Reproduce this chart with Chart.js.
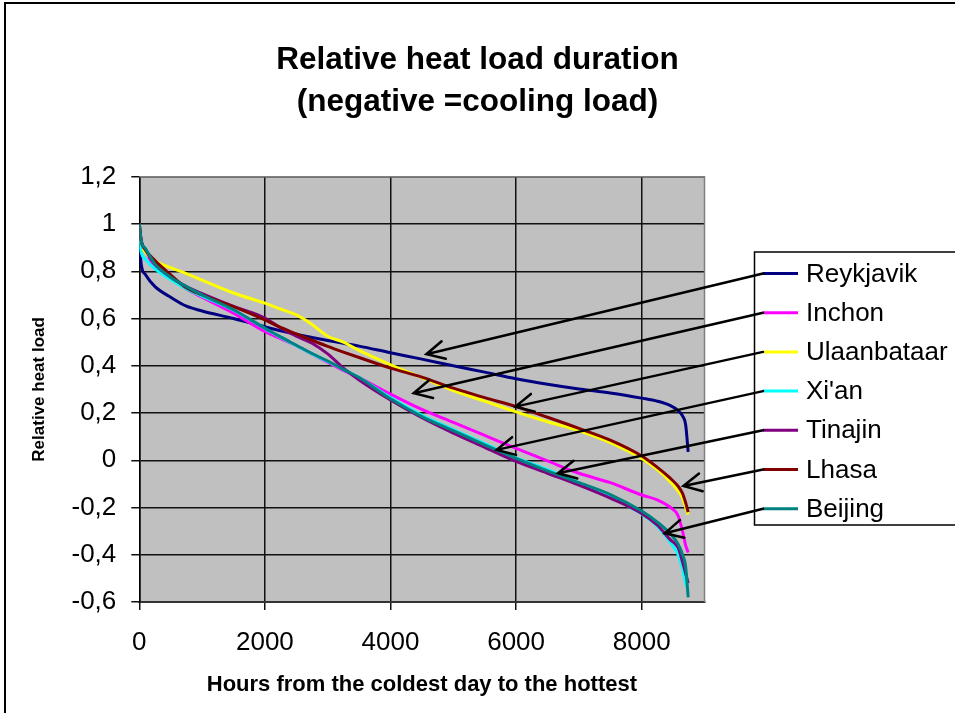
<!DOCTYPE html>
<html>
<head>
<meta charset="utf-8">
<script src="https://cdn.jsdelivr.net/npm/chart.js@4/dist/chart.umd.min.js"></script>
<style>
  html, body { margin: 0; padding: 0; background: #ffffff; }
  canvas { display: block; }
</style>
</head>
<body>
<canvas id="c" width="955" height="713"></canvas>
<script>
// ---------------- DATA ----------------
const cities = ['Reykjavik', 'Inchon', 'Ulaanbataar', "Xi'an", 'Tinajin', 'Lhasa', 'Beijing'];
const cityColors = ['#000080', '#ff00ff', '#ffff00', '#00ffff', '#800080', '#800000', '#008080'];

const hours = [0, 30, 100, 250, 500, 750, 1000, 1500, 2000, 2250, 2500, 2750, 3000, 3250, 3500,
               4000, 4500, 5000, 5500, 6000, 6500, 7000, 7500, 8000, 8250, 8450, 8580, 8650, 8700, 8740];

const reykjavik   = [0.93, 0.83, 0.785, 0.735, 0.69, 0.652, 0.632, 0.60, 0.565, 0.548, 0.533, 0.52, 0.507, 0.495, 0.483,
                     0.455, 0.428, 0.40, 0.373, 0.345, 0.322, 0.302, 0.285, 0.263, 0.25, 0.232, 0.21, 0.188, 0.15, 0.035];
const inchon      = [1.0, 0.93, 0.885, 0.82, 0.77, 0.725, 0.69, 0.623, 0.545, 0.515, 0.485, 0.45, 0.415, 0.38, 0.35,
                     0.28, 0.215, 0.16, 0.105, 0.05, -0.003, -0.055, -0.095, -0.147, -0.168, -0.198, -0.235, -0.30, -0.36, -0.39];
const ulaanbataar = [1.0, 0.92, 0.88, 0.845, 0.815, 0.79, 0.762, 0.708, 0.665, 0.64, 0.615, 0.575, 0.525, 0.50, 0.465,
                     0.404, 0.35, 0.295, 0.25, 0.205, 0.163, 0.125, 0.075, 0.008, -0.04, -0.09, -0.13, -0.16, -0.20, -0.23];
const xian        = [0.93, 0.88, 0.85, 0.81, 0.765, 0.725, 0.695, 0.635, 0.558, 0.52, 0.485, 0.45, 0.418, 0.385, 0.35,
                     0.265, 0.19, 0.13, 0.07, 0.01, -0.04, -0.095, -0.155, -0.228, -0.28, -0.345, -0.40, -0.46, -0.52, -0.55];
const tinajin     = [1.0, 0.93, 0.89, 0.83, 0.775, 0.735, 0.705, 0.651, 0.602, 0.56, 0.525, 0.495, 0.45, 0.39, 0.34,
                     0.255, 0.18, 0.115, 0.055, -0.005, -0.055, -0.105, -0.16, -0.225, -0.275, -0.335, -0.37, -0.43, -0.48, -0.52];
const lhasa       = [1.0, 0.93, 0.89, 0.845, 0.785, 0.73, 0.70, 0.65, 0.594, 0.562, 0.535, 0.508, 0.482, 0.458, 0.435,
                     0.39, 0.352, 0.305, 0.265, 0.227, 0.182, 0.135, 0.085, 0.018, -0.03, -0.075, -0.11, -0.14, -0.18, -0.22];
const beijing     = [1.0, 0.93, 0.895, 0.83, 0.775, 0.735, 0.70, 0.637, 0.559, 0.522, 0.487, 0.452, 0.42, 0.385, 0.35,
                     0.26, 0.185, 0.125, 0.065, 0.008, -0.045, -0.095, -0.145, -0.215, -0.262, -0.31, -0.355, -0.40, -0.45, -0.58];

const seriesValues = [reykjavik, inchon, ulaanbataar, xian, tinajin, lhasa, beijing];

const xTicks = [0, 2000, 4000, 6000, 8000];
const xTickLabels = ['0', '2000', '4000', '6000', '8000'];
const yTicks = [-0.6, -0.4, -0.2, 0, 0.2, 0.4, 0.6, 0.8, 1.0, 1.2];
const yTickLabels = ['-0,6', '-0,4', '-0,2', '0', '0,2', '0,4', '0,6', '0,8', '1', '1,2'];

// arrow tips (data coordinates) pointing from each legend entry
const arrowTipHours = [4571, 4369, 5990, 5690, 6667, 8664, 8368];
const arrowTipLoad  = [0.449, 0.284, 0.227, 0.044, -0.055, -0.109, -0.309];

// ---------------- CHART ----------------
const FONT = "'Liberation Sans', Arial, Helvetica, sans-serif";

const datasets = cities.map((name, i) => ({
  label: name,
  data: hours.map((h, k) => ({ x: h, y: seriesValues[i][k] })),
  borderColor: cityColors[i],
  backgroundColor: cityColors[i],
  borderWidth: 3,
  pointRadius: 0,
  fill: false,
  cubicInterpolationMode: 'monotone',
  order: cities.length - i
}));

const decorPlugin = {
  id: 'decor',
  beforeDraw(chart) {
    const { ctx, chartArea: a } = chart;
    ctx.save();
    ctx.fillStyle = '#c0c0c0';
    ctx.fillRect(a.left, a.top, a.right - a.left, a.bottom - a.top);
    ctx.restore();
  },
  beforeDatasetsDraw(chart) {
    const { ctx, chartArea: a } = chart;
    ctx.save();
    ctx.strokeStyle = '#808080';
    ctx.lineWidth = 1.5;
    ctx.beginPath();
    ctx.moveTo(a.left, a.top);
    ctx.lineTo(a.right, a.top);
    ctx.lineTo(a.right, a.bottom);
    ctx.stroke();
    ctx.restore();
  },
  afterDraw(chart) {
    const { ctx } = chart;
    const xs = chart.scales.x, ys = chart.scales.y;
    ctx.save();
    // outer frame
    ctx.strokeStyle = '#000';
    ctx.lineWidth = 2;
    ctx.strokeRect(5, 3, 1000, 1000);

    // legend box
    const boxL = 754.5, boxT = 252, boxB = 525;
    ctx.fillStyle = '#fff';
    ctx.fillRect(boxL, boxT, 300, boxB - boxT);
    ctx.lineWidth = 1.5;
    ctx.strokeStyle = '#000';
    ctx.strokeRect(boxL, boxT, 300, boxB - boxT);

    const y0 = 273.5, dy = 39.2, lineL = 763, lineR = 798, textX = 806;
    ctx.font = '26px ' + FONT;
    ctx.textBaseline = 'middle';
    ctx.textAlign = 'left';
    chart.data.datasets.forEach((ds, i) => {
      const y = y0 + i * dy;
      ctx.strokeStyle = ds.borderColor;
      ctx.lineWidth = 3;
      ctx.beginPath();
      ctx.moveTo(lineL, y);
      ctx.lineTo(lineR, y);
      ctx.stroke();
      ctx.fillStyle = '#000';
      ctx.fillText(ds.label, textX, y + 1);
    });

    // arrows
    ctx.strokeStyle = '#000';
    ctx.lineWidth = 2.5;
    ctx.lineCap = 'round';
    chart.data.datasets.forEach((ds, i) => {
      const sx = lineL, sy = y0 + i * dy;
      const tx = xs.getPixelForValue(arrowTipHours[i]);
      const ty = ys.getPixelForValue(arrowTipLoad[i]);
      const ang = Math.atan2(sy - ty, sx - tx);
      const head = 20, spread = 0.47;
      ctx.beginPath();
      ctx.moveTo(sx, sy);
      ctx.lineTo(tx, ty);
      ctx.moveTo(tx + head * Math.cos(ang - spread), ty + head * Math.sin(ang - spread));
      ctx.lineTo(tx, ty);
      ctx.lineTo(tx + head * Math.cos(ang + spread), ty + head * Math.sin(ang + spread));
      ctx.stroke();
    });
    ctx.restore();
  }
};

new Chart(document.getElementById('c'), {
  type: 'line',
  data: { datasets },
  plugins: [decorPlugin],
  options: {
    responsive: false,
    devicePixelRatio: 1,
    animation: false,
    events: [],
    layout: { padding: { left: 0, right: 0, top: 0, bottom: 0 } },
    plugins: {
      legend: { display: false },
      tooltip: { enabled: false },
      title: {
        display: true,
        text: ['Relative heat load duration', '(negative =cooling load)'],
        color: '#000',
        font: { family: FONT, size: 31.5, weight: 'bold', lineHeight: 1.32 },
        padding: { top: 40, bottom: 53.6 }
      }
    },
    scales: {
      x: {
        type: 'linear',
        min: 0,
        max: 9000,
        afterBuildTicks: s => { s.ticks = xTicks.map(v => ({ value: v })); },
        afterFit: s => { s.height = 111; },
        ticks: {
          callback: (v, i) => xTickLabels[i],
          color: '#000',
          font: { family: FONT, size: 26 },
          padding: 17,
          maxRotation: 0
        },
        grid: { color: '#111', lineWidth: 1.5, tickLength: 8, drawTicks: true },
        border: { color: '#333', width: 2 },
        title: {
          display: true,
          text: 'Hours from the coldest day to the hottest',
          color: '#000',
          font: { family: FONT, size: 22, weight: 'bold', lineHeight: 1.2 },
          padding: { top: 0, bottom: 15 }
        }
      },
      y: {
        type: 'linear',
        min: -0.6,
        max: 1.2,
        afterBuildTicks: s => { s.ticks = yTicks.map(v => ({ value: v })); },
        afterFit: s => { s.width = 139.3; },
        ticks: {
          callback: (v, i) => yTickLabels[i],
          color: '#000',
          font: { family: FONT, size: 26 },
          padding: 15
        },
        grid: { color: '#111', lineWidth: 1.5, tickLength: 8, drawTicks: true },
        border: { color: '#000', width: 1.5 },
        title: {
          display: true,
          text: 'Relative heat load',
          color: '#000',
          font: { family: FONT, size: 17, weight: 'bold', lineHeight: 1.2 },
          padding: { top: 29.5, bottom: 0 }
        }
      },
      yRight: {
        type: 'linear',
        position: 'right',
        min: 0,
        max: 1,
        afterFit: s => { s.width = 250.5; },
        grid: { display: false, drawTicks: false },
        border: { display: false },
        ticks: { display: false }
      }
    }
  }
});
</script>
</body>
</html>
